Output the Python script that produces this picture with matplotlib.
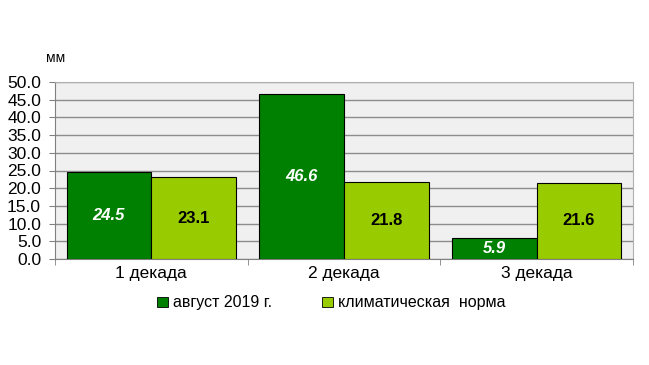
import numpy as np
import matplotlib.pyplot as plt
from matplotlib.patches import Patch

plt.rcParams['font.family'] = ['Liberation Sans', 'DejaVu Sans']

# данные
categories = ['1 декада', '2 декада', '3 декада']
august_2019 = [24.5, 46.6, 5.9]
clim_norm = [23.1, 21.8, 21.6]
series_names = ['август 2019 г.', 'климатическая  норма']

DARK = '#008000'
LIGHT = '#99CC00'

fig = plt.figure(figsize=(6.49, 3.65), dpi=100)
ax = fig.add_axes([55 / 649, 1 - 259 / 365, 578 / 649, 177 / 365])
ax.set_facecolor('#F0F0F0')

x = np.arange(len(categories))
w = 0.44
b1 = ax.bar(x - w / 2, august_2019, w, color=DARK, edgecolor='black', linewidth=0.8, zorder=3)
b2 = ax.bar(x + w / 2, clim_norm, w, color=LIGHT, edgecolor='black', linewidth=0.8, zorder=3)

for rect, v in zip(b1, august_2019):
    ax.text(rect.get_x() + rect.get_width() / 2, v / 2, f'{v:.1f}', ha='center', va='center',
            color='white', fontsize=12, fontweight='bold', fontstyle='italic', zorder=4)
for rect, v in zip(b2, clim_norm):
    ax.text(rect.get_x() + rect.get_width() / 2, v / 2, f'{v:.1f}', ha='center', va='center',
            color='black', fontsize=12, fontweight='bold', zorder=4)

ax.set_xlim(-0.5, 2.5)
ax.set_ylim(0, 50)
ticks = np.arange(0, 50.1, 5)
ax.set_yticks(ticks)
ax.set_yticklabels([f'{t:.1f}' for t in ticks], fontsize=12.5)
ax.yaxis.grid(True, color='#8C8C8C', linewidth=1.0, zorder=0)
ax.set_axisbelow(True)

ax.set_xticks(x)
ax.set_xticklabels(categories, fontsize=12.5)
ax.set_xticks([-0.5, 0.5, 1.5, 2.5], minor=True)
ax.tick_params(axis='x', which='major', length=0, pad=5)
ax.tick_params(axis='x', which='minor', length=4, color='#808080')
ax.tick_params(axis='y', length=4, color='#808080', pad=6)

for s in ['top', 'right']:
    ax.spines[s].set_color('#B0B0B0')
for s in ['left', 'bottom']:
    ax.spines[s].set_color('#808080')

fig.text(46 / 649, 1 - 58 / 365, 'мм', fontsize=10, ha='left', va='center')

handles = [Patch(facecolor=DARK, edgecolor='black', linewidth=0.6),
           Patch(facecolor=LIGHT, edgecolor='black', linewidth=0.6)]
fig.legend(handles, series_names, loc='center', bbox_to_anchor=(0.51, 1 - 303 / 365), ncol=2,
           frameon=False, fontsize=11.5, handlelength=0.7, handleheight=0.6,
           handletextpad=0.3, columnspacing=3.1)

fig.savefig('out.png', dpi=100)
